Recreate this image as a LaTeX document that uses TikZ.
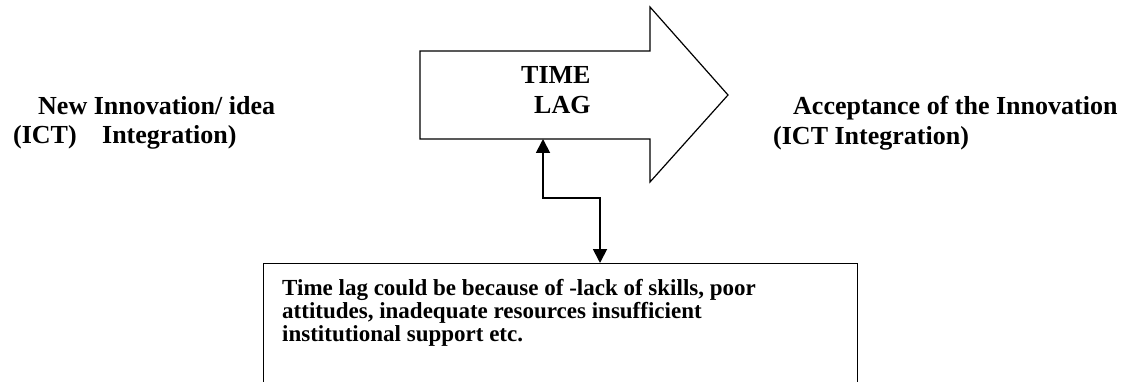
\documentclass[tikz,border=0pt]{standalone}
\usepackage{fontspec}
\setmainfont{Liberation Serif}
\usetikzlibrary{arrows.meta}

\tikzset{
  label text/.style={inner sep=0pt, anchor=north west, align=left, font=\fontsize{26}{29.5}\selectfont\bfseries},
  box text/.style={label text, font=\fontsize{23}{23.3}\selectfont\bfseries},
  link/.style={line width=1.8pt, {Triangle[length=14pt,width=14pt]}-{Triangle[length=14pt,width=14pt]}},
}

\begin{document}
\begin{tikzpicture}[x=1pt,y=1pt,yscale=-1,xscale=1]
\useasboundingbox (0,0) rectangle (1126,382);

%Block Arrow
\draw [line width=1.2pt, line join=miter] (420,51) -- (650,51) -- (650,7) -- (728,95) -- (650,182) -- (650,139) -- (420,139) -- cycle ;
\coordinate (lagfoot) at (543,139);

% Text Node
\node (lag) [label text, font=\fontsize{26}{30}\selectfont\bfseries] at (521,66) {TIME\\\hspace*{13pt}LAG};
% Text Node
\node (newidea) [label text] at (13,96) {\hspace*{25pt}New Innovation/ idea\\\makebox[89pt][l]{(ICT)}Integration)};
% Text Node
\node (accept) [label text] at (773,96) {\hspace*{20pt}Acceptance of the Innovation\\(ICT Integration)};

% Reasons box
\node (reasons) [draw, line width=1.2pt, anchor=north west, inner sep=0pt, minimum width=594pt, minimum height=140pt] at (263,263) {};
\node (reasonstext) [box text] at (282,279) {Time lag could be because of -lack of skills, poor\\attitudes, inadequate resources insufficient\\institutional support etc.};

%Connector
\draw [link] (lagfoot) -- (543,198) -- (600,198) -- (600,263) ;

\end{tikzpicture}
\end{document}
